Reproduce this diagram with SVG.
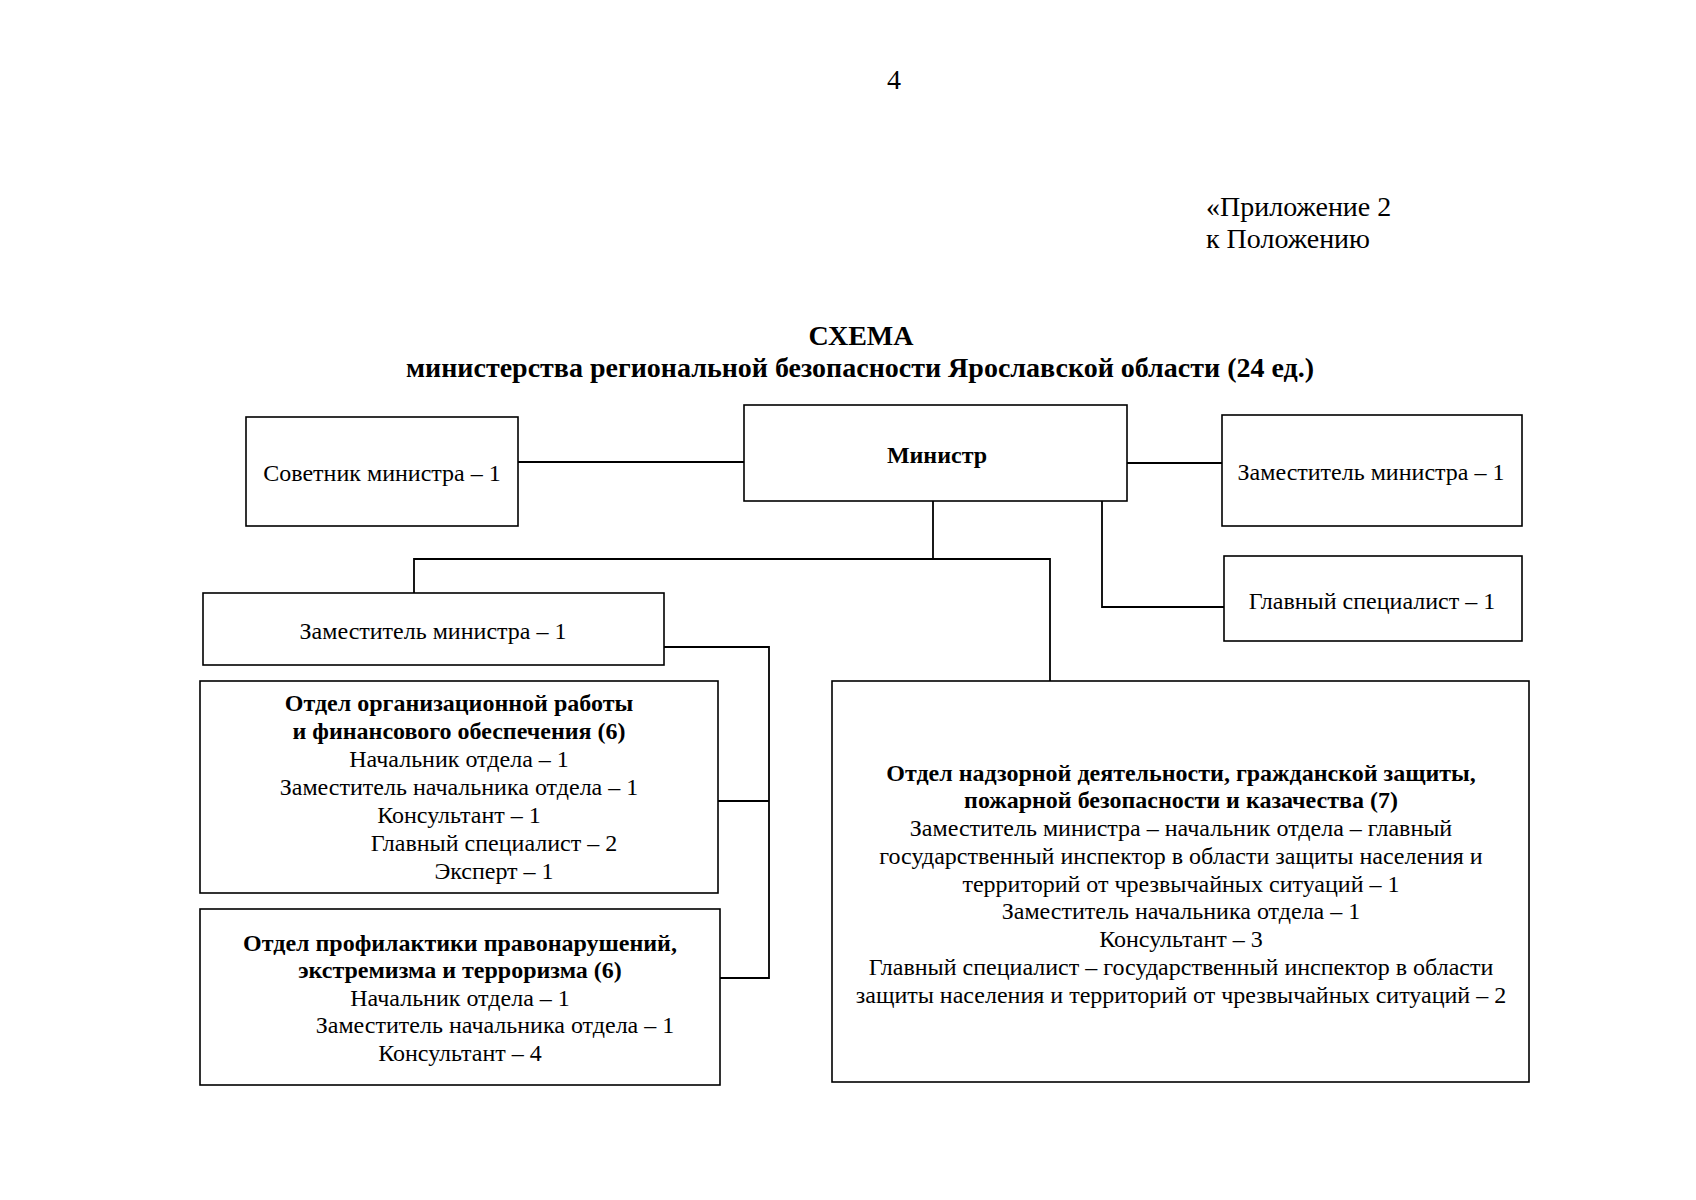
<svg xmlns="http://www.w3.org/2000/svg" width="1696" height="1200" viewBox="0 0 1696 1200">
<style>
  text { font-family: "Liberation Serif", "Times New Roman", serif; fill: #000; }
  .t { font-size: 24px; text-anchor: middle; }
  .b { font-weight: bold; }
  .box { fill: #fff; stroke: #000; stroke-width: 1.6; }
  .ln { fill: none; stroke: #000; stroke-width: 1.8; }
</style>
<rect width="1696" height="1200" fill="#fff"/>

<text x="894" y="89" font-size="28" text-anchor="middle">4</text>
<text x="1206" y="216" font-size="28">«Приложение 2</text>
<text x="1206" y="248" font-size="28">к Положению</text>

<text x="861" y="345" font-size="28" class="b" text-anchor="middle">СХЕМА</text>
<text x="860" y="377" font-size="28" class="b" text-anchor="middle">министерства региональной безопасности Ярославской области (24 ед.)</text>

<g id="connectors">
  <path class="ln" d="M518 462 H744"/>
  <path class="ln" d="M1127 463 H1222"/>
  <path class="ln" d="M933 501 V559"/>
  <path class="ln" d="M414 593 V559 H1050 V681"/>
  <path class="ln" d="M1102 501 V607 H1224"/>
  <path class="ln" d="M664 647 H769 V978 H720"/>
  <path class="ln" d="M718 801 H769"/>
</g>

<g id="sovetnik">
  <rect class="box" x="246" y="417" width="272" height="109"/>
  <text class="t" x="382" y="481">Советник министра – 1</text>
</g>

<g id="ministr">
  <rect class="box" x="744" y="405" width="383" height="96"/>
  <text class="t b" x="937" y="463">Министр</text>
</g>

<g id="zam-right">
  <rect class="box" x="1222" y="415" width="300" height="111"/>
  <text class="t" x="1371" y="480">Заместитель министра – 1</text>
</g>

<g id="glav-spec">
  <rect class="box" x="1224" y="556" width="298" height="85"/>
  <text class="t" x="1372" y="609">Главный специалист – 1</text>
</g>

<g id="zam-left">
  <rect class="box" x="203" y="593" width="461" height="72"/>
  <text class="t" x="433" y="639">Заместитель министра – 1</text>
</g>

<g id="otdel-org">
  <rect class="box" x="200" y="681" width="518" height="212"/>
  <text class="t b" x="459" y="711">Отдел организационной работы</text>
  <text class="t b" x="459" y="739">и финансового обеспечения (6)</text>
  <text class="t" x="459" y="767">Начальник отдела – 1</text>
  <text class="t" x="459" y="795">Заместитель начальника отдела – 1</text>
  <text class="t" x="459" y="823">Консультант – 1</text>
  <text class="t" x="494" y="851">Главный специалист – 2</text>
  <text class="t" x="494" y="879">Эксперт – 1</text>
</g>

<g id="otdel-prof">
  <rect class="box" x="200" y="909" width="520" height="176"/>
  <text class="t b" x="460" y="951">Отдел профилактики правонарушений,</text>
  <text class="t b" x="460" y="978">экстремизма и терроризма (6)</text>
  <text class="t" x="460" y="1006">Начальник отдела – 1</text>
  <text class="t" x="495" y="1033">Заместитель начальника отдела – 1</text>
  <text class="t" x="460" y="1061">Консультант – 4</text>
</g>

<g id="otdel-nadz">
  <rect class="box" x="832" y="681" width="697" height="401"/>
  <text class="t b" x="1181" y="781">Отдел надзорной деятельности, гражданской защиты,</text>
  <text class="t b" x="1181" y="808">пожарной безопасности и казачества (7)</text>
  <text class="t" x="1181" y="836">Заместитель министра – начальник отдела – главный</text>
  <text class="t" x="1181" y="864">государственный инспектор в области защиты населения и</text>
  <text class="t" x="1181" y="892">территорий от чрезвычайных ситуаций – 1</text>
  <text class="t" x="1181" y="919">Заместитель начальника отдела – 1</text>
  <text class="t" x="1181" y="947">Консультант – 3</text>
  <text class="t" x="1181" y="975">Главный специалист – государственный инспектор в области</text>
  <text class="t" x="1181" y="1003">защиты населения и территорий от чрезвычайных ситуаций – 2</text>
</g>
</svg>
